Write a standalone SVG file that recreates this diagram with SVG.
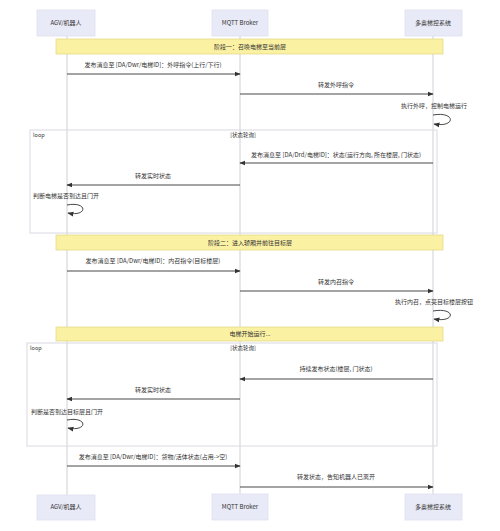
<svg xmlns="http://www.w3.org/2000/svg" width="500" height="531" viewBox="0 0 500 531">
<style>
text{font-family:"Noto Sans CJK SC","Liberation Sans",sans-serif;font-size:6px;fill:#333}
.c{text-anchor:middle}
.actor rect{fill:#e9eaf7;stroke:#dfe0f0;stroke-width:0.8}
.life{stroke:#cfcfd8;stroke-width:1}
.msg{stroke:#333;stroke-width:0.9;fill:none}
.note rect{fill:#fbf1a3;stroke:#e3d98a;stroke-width:0.8}
.frame{fill:none;stroke:#dadae2;stroke-width:1}
.small{font-size:5.5px}
</style>
<defs>
<marker id="ah" viewBox="0 0 10 10" refX="9" refY="5" markerWidth="6" markerHeight="6" orient="auto-start-reverse" markerUnits="userSpaceOnUse">
<path d="M0,1 L10,5 L0,9 z" fill="#333"/>
</marker>
</defs>
<rect width="500" height="531" fill="#fff"/>
<g id="lifelines">
<line class="life" x1="67" y1="36" x2="67" y2="495"/>
<line class="life" x1="240" y1="36" x2="240" y2="494"/>
<line class="life" x1="433" y1="36" x2="433" y2="494"/>
</g>
<g id="frames">
<rect class="frame" x="30" y="130" width="407" height="103"/>
<text class="small" x="33" y="137">loop</text>
<text class="small c" x="243" y="137">[状态轮询]</text>
<rect class="frame" x="27" y="343" width="410" height="103"/>
<text class="small" x="30" y="350">loop</text>
<text class="small c" x="243" y="350">[状态轮询]</text>
</g>
<g id="actor-agv-top" class="actor"><rect x="37" y="10" width="58" height="26"/><text class="c" x="66" y="25">AGV/机器人</text></g>
<g id="actor-mqtt-top" class="actor"><rect x="212" y="10" width="56" height="26"/><text class="c" x="240" y="25">MQTT Broker</text></g>
<g id="actor-elev-top" class="actor"><rect x="405" y="10" width="57" height="26"/><text class="c" x="433" y="25">多奥梯控系统</text></g>
<g id="note-phase1" class="note"><rect x="56" y="39" width="387" height="15"/><text class="c" x="250" y="49">阶段一：召唤电梯至当前层</text></g>
<g id="note-phase2" class="note"><rect x="56" y="235" width="387" height="15"/><text class="c" x="250" y="245">阶段二：进入轿厢并前往目标层</text></g>
<g id="note-running" class="note"><rect x="56" y="327" width="387" height="14"/><text class="c" x="250" y="336">电梯开始运行...</text></g>
<g id="actor-agv-bottom" class="actor"><rect x="37" y="495" width="58" height="25"/><text class="c" x="66" y="509">AGV/机器人</text></g>
<g id="actor-mqtt-bottom" class="actor"><rect x="212" y="494" width="56" height="26"/><text class="c" x="240" y="509">MQTT Broker</text></g>
<g id="actor-elev-bottom" class="actor"><rect x="405" y="494" width="57" height="26"/><text class="c" x="433" y="509">多奥梯控系统</text></g>
<g id="connectors">
<line class="msg" x1="67" y1="74" x2="240" y2="74" marker-end="url(#ah)"/>
<text class="c" x="153" y="67">发布消息至 [DA/Dwr/电梯ID]：外呼指令(上行/下行)</text>
<line class="msg" x1="240" y1="94" x2="433" y2="94" marker-end="url(#ah)"/>
<text class="c" x="336" y="87">转发外呼指令</text>
<text class="c" x="434" y="108">执行外呼，控制电梯运行</text>
<path class="msg" d="M433,115 C456,111 456,128 434,124" marker-end="url(#ah)"/>
<line class="msg" x1="433" y1="163" x2="240" y2="163" marker-end="url(#ah)"/>
<text class="c" x="336" y="157">发布消息至 [DA/Drd/电梯ID]：状态(运行方向, 所在楼层, 门状态)</text>
<line class="msg" x1="240" y1="185" x2="67" y2="185" marker-end="url(#ah)"/>
<text class="c" x="153" y="178">转发实时状态</text>
<text x="33" y="198">判断电梯是否到达且门开</text>
<path class="msg" d="M67,205 C88,201 88,217 68,213" marker-end="url(#ah)"/>
<line class="msg" x1="67" y1="271" x2="240" y2="271" marker-end="url(#ah)"/>
<text class="c" x="153" y="263">发布消息至 [DA/Dwr/电梯ID]：内召指令(目标楼层)</text>
<line class="msg" x1="240" y1="291" x2="433" y2="291" marker-end="url(#ah)"/>
<text class="c" x="336" y="284">转发内召指令</text>
<text class="c" x="434" y="304">执行内召，点亮目标楼层按钮</text>
<path class="msg" d="M433,311 C456,307 456,323 434,319" marker-end="url(#ah)"/>
<line class="msg" x1="433" y1="379" x2="240" y2="379" marker-end="url(#ah)"/>
<text class="c" x="336" y="371">持续发布状态(楼层, 门状态)</text>
<line class="msg" x1="240" y1="399" x2="67" y2="399" marker-end="url(#ah)"/>
<text class="c" x="153" y="392">转发实时状态</text>
<text x="31" y="414">判断是否到达目标层且门开</text>
<path class="msg" d="M67,420 C88,416 88,432 68,428" marker-end="url(#ah)"/>
<line class="msg" x1="67" y1="466" x2="240" y2="466" marker-end="url(#ah)"/>
<text class="c" x="153" y="459">发布消息至 [DA/Dwr/电梯ID]：货物/活体状态(占用-&gt;空)</text>
<line class="msg" x1="240" y1="487" x2="433" y2="487" marker-end="url(#ah)"/>
<text class="c" x="336" y="479">转发状态，告知机器人已离开</text>
</g>
</svg>
